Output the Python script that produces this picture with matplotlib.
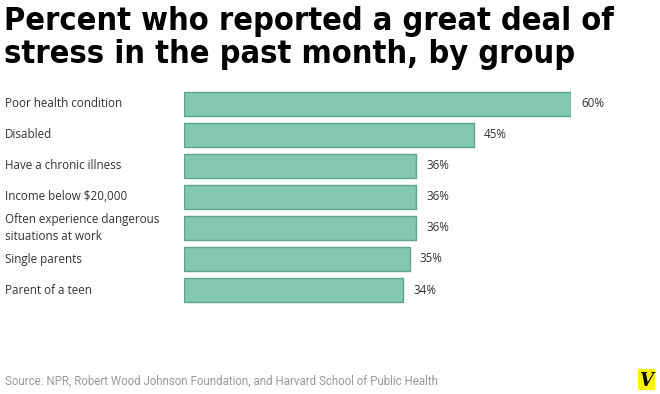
import matplotlib
matplotlib.use("Agg")
import matplotlib.pyplot as plt
from matplotlib.patches import Rectangle

groups = ["Poor health condition", "Disabled", "Have a chronic illness",
          "Income below $20,000", "Often experience dangerous\nsituations at work",
          "Single parents", "Parent of a teen"]
values = [60, 45, 36, 36, 36, 35, 34]
value_labels = ["60%", "45%", "36%", "36%", "36%", "35%", "34%"]

W, H = 660, 394
fig = plt.figure(figsize=(W / 100, H / 100), dpi=100)

# axes: x=0 at px 184, 60% at px 571
x0, x1 = 184, 571
ax = fig.add_axes([x0 / W, 1 - 305.5 / H, (x1 - x0) / W, 217 / H])
ypos = list(range(len(values)))
ax.barh(ypos, values, height=0.75, color="#82c9b0", edgecolor="#5ea58b", linewidth=1)
ax.set_xlim(0, 60)
ax.set_ylim(len(values) - 0.5, -0.5)
ax.axis("off")

for y, v, lab in zip(ypos, values, value_labels):
    ax.annotate(lab, (v, y), xytext=(10, 0), textcoords="offset pixels",
                va="center", ha="left", fontsize=8.4, color="#333333",
                family="Open Sans")
for y, g in zip(ypos, groups):
    ax.annotate(g, (0, y), xycoords=("axes fraction", "data"),
                xytext=(5 - x0, 0), textcoords="offset pixels",
                va="center", ha="left", fontsize=8.4, color="#333333",
                family="Open Sans", linespacing=1.4)

fig.text(4 / W, 1 - 6 / H, "Percent who reported a great deal of\nstress in the past month, by group",
         ha="left", va="top", fontsize=23.3, fontweight="heavy", fontstretch="condensed",
         family="DejaVu Sans", color="black", linespacing=1.1)

fig.text(5 / W, 1 - 381 / H, "Source: NPR, Robert Wood Johnson Foundation, and Harvard School of Public Health",
         ha="left", va="center", fontsize=8.3, color="#9a9a9a", family="Roboto")

# logo
logo = fig.add_axes([638 / W, 1 - 390 / H, 17 / W, 21 / H])
logo.add_patch(Rectangle((0, 0), 1, 1, color="#fff200"))
logo.text(0.5, 0.45, "V", ha="center", va="center", fontsize=13, fontweight="bold",
          family="DejaVu Serif", color="black", style="italic")
logo.set_xlim(0, 1)
logo.set_ylim(0, 1)
logo.axis("off")

fig.savefig("out.png", dpi=100)
